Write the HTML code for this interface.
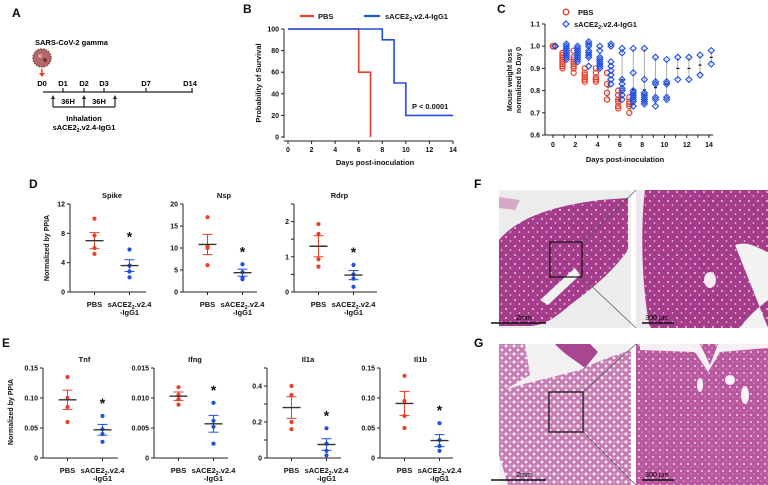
<!DOCTYPE html>
<html><head><meta charset="utf-8">
<style>
html,body{margin:0;padding:0;background:#fff;}
svg{display:block;font-family:"Liberation Sans",Arial,sans-serif;font-weight:bold;}
</style></head>
<body>
<svg id="fig" width="768" height="485" viewBox="0 0 768 485" xmlns="http://www.w3.org/2000/svg">
<defs>
  <pattern id="holesDense" width="9" height="9" patternUnits="userSpaceOnUse">
    <rect width="9" height="9" fill="#a53d8c"/>
    <circle cx="2" cy="3" r="1" fill="#e9c4dd"/>
    <circle cx="6.5" cy="7" r="0.8" fill="#f4dced"/>
    <circle cx="7" cy="1.5" r="0.6" fill="#7c2a6a"/>
  </pattern>
  <pattern id="holesLight" width="8" height="8" patternUnits="userSpaceOnUse">
    <rect width="8" height="8" fill="#c67ab2"/>
    <circle cx="2" cy="2" r="1.6" fill="#f6e8f2"/>
    <circle cx="6" cy="6" r="1.4" fill="#fbf0f7"/>
    <circle cx="6" cy="2" r="0.7" fill="#f0d4e8"/>
  </pattern>
  <pattern id="holesMid" width="7" height="7" patternUnits="userSpaceOnUse">
    <rect width="7" height="7" fill="#b9579f"/>
    <circle cx="2" cy="2" r="1.1" fill="#e8bcd9"/>
    <circle cx="5" cy="5" r="0.8" fill="#d79ac4"/>
  </pattern>
</defs>

<!-- Panel A -->
<g>
  <text x="12" y="17" font-size="12">A</text>
  <text x="35" y="45" font-size="7.5">SARS-CoV-2 gamma</text>
  <g>
    <circle cx="42" cy="58" r="9" fill="#b06a6a" stroke="#8a3d3d" stroke-width="1.5" stroke-dasharray="1.5 1.2"/>
    <circle cx="40" cy="56" r="2" fill="#d9a0a0"/><circle cx="45" cy="60" r="2" fill="#7a3030"/>
  </g>
  <path d="M42 69 L42 74" stroke="#e8402a" stroke-width="1.5"/>
  <path d="M39 73 L45 73 L42 77 Z" fill="#e8402a"/>
  <g font-size="7.5" text-anchor="middle">
    <text x="42" y="86">D0</text><text x="63" y="86">D1</text><text x="84" y="86">D2</text>
    <text x="104" y="86">D3</text><text x="146" y="86">D7</text><text x="190" y="86">D14</text>
  </g>
  <path d="M43 92 L193 92 M63 92 L63 88 M84 92 L84 88 M104 92 L104 88 M146 92 L146 88 M192 92 L192 88" stroke="#222" stroke-width="1.2" fill="none"/>
  <path d="M53 107 L115 107 M53 107 L53 98 M84 107 L84 98 M115 107 L115 98" stroke="#222" stroke-width="1.2" fill="none"/>
  <path d="M51 99 L53 95 L55 99 Z M82 99 L84 95 L86 99 Z M113 99 L115 95 L117 99 Z" fill="#222"/>
  <text x="68" y="104" font-size="7.5" text-anchor="middle">36H</text>
  <text x="99" y="104" font-size="7.5" text-anchor="middle">36H</text>
  <text x="84" y="121" font-size="7.5" text-anchor="middle">Inhalation</text>
  <text x="84" y="130" font-size="7.5" text-anchor="middle">sACE2<tspan font-size="5" dy="2">2</tspan><tspan dy="-2">.v2.4-IgG1</tspan></text>
</g>

<g id="gB"></g>
<g id="gC"></g>
<g id="gD"></g>
<g id="gE"></g>

<!-- Panel F histology -->
<g>
  <text x="474" y="188" font-size="12">F</text>
  <rect x="499" y="190" width="132" height="138" fill="#ececec"/>
  <path d="M499 240 C520 215 560 205 600 200 L628 198 L628 250 C610 275 590 290 570 305 C555 318 545 325 530 326 L499 326 Z" fill="url(#holesDense)"/>
  <path d="M499 197 L520 200 L515 210 L499 208 Z" fill="#d8a8c8"/>
  <path d="M540 300 L575 268 L580 275 L548 305 Z" fill="#f2f2f2"/>
  <rect x="550" y="242" width="32" height="35" fill="none" stroke="#111" stroke-width="1.2"/>
  <path d="M582 242 L636 190 M582 277 L636 328" stroke="#555" stroke-width="0.7"/>
  <rect x="636" y="190" width="132" height="138" fill="url(#holesDense)"/>
  <path d="M636 190 L645 190 C640 230 642 290 650 328 L636 328 Z" fill="#f0e8ee"/>
  <path d="M735 245 C750 240 760 250 768 252 L768 300 C755 310 745 320 740 328 L768 328 Z" fill="#f2f2f2"/>
  <ellipse cx="710" cy="280" rx="6" ry="8" fill="#f6eaf2"/>
  <line x1="491" y1="323" x2="546" y2="323" stroke="#111" stroke-width="1.5"/>
  <text x="524" y="320" font-size="7" text-anchor="middle" font-weight="normal">2mm</text>
  <line x1="642" y1="323" x2="674" y2="323" stroke="#111" stroke-width="1.5"/>
  <text x="657" y="320" font-size="7" text-anchor="middle" font-weight="normal">300 μm</text>
</g>

<!-- Panel G histology -->
<g>
  <text x="474" y="347" font-size="12">G</text>
  <rect x="499" y="344" width="132" height="141" fill="url(#holesLight)"/>
  <path d="M525 344 L631 344 L631 350 C600 360 590 365 580 370 L520 385 L505 390 L530 375 Z" fill="#f3f0f2"/>
  <path d="M555 344 C565 355 575 360 585 368 L598 352 L590 344 Z" fill="#a8468f"/>
  <path d="M499 455 L508 485 L499 485 Z" fill="#f2f2f2"/>
  <rect x="549" y="392" width="34" height="40" fill="none" stroke="#111" stroke-width="1.2"/>
  <path d="M583 392 L636 344 M583 432 L636 485" stroke="#555" stroke-width="0.7"/>
  <rect x="636" y="344" width="132" height="141" fill="url(#holesMid)"/>
  <path d="M640 344 L700 344 L710 365 L718 344 L768 344 L768 348 L720 352 L708 372 L695 352 L640 350 Z" fill="#f6f0f4"/>
  <ellipse cx="700" cy="385" rx="3" ry="7" fill="#fbf3f8"/><ellipse cx="745" cy="395" rx="4" ry="9" fill="#fbf3f8"/><ellipse cx="730" cy="380" rx="5" ry="5" fill="#fbf3f8"/>
  <line x1="491" y1="480" x2="546" y2="480" stroke="#111" stroke-width="1.5"/>
  <text x="524" y="477" font-size="7" text-anchor="middle" font-weight="normal">2mm</text>
  <line x1="642" y1="480" x2="674" y2="480" stroke="#111" stroke-width="1.5"/>
  <text x="657" y="477" font-size="7" text-anchor="middle" font-weight="normal">300 μm</text>
</g>
</svg>

<script>
// ---------- Panel B data ----------
const survDays = [0, 2, 4, 6, 8, 10, 12, 14];
const survTicksY = [0, 20, 40, 60, 80, 100];
const survPBSx = [0, 6, 6, 7, 7];
const survPBSy = [100, 100, 60, 60, 0];
const survTrtX = [0, 8, 8, 9, 9, 10, 10, 14];
const survTrtY = [100, 100, 90, 90, 50, 50, 20, 20];

// ---------- Panel C data ----------
const wtTicksX = [0, 2, 4, 6, 8, 10, 12, 14];
const wtTicksY = [0.6, 0.7, 0.8, 0.9, 1.0, 1.1];
const wtPBSdays = [0, 1, 2, 3, 4, 5, 6, 7];
const wtPBSvals = [
  [1, 1, 1, 1, 1, 1, 1, 1],
  [0.97, 0.96, 0.95, 0.94, 0.93, 0.92, 0.91, 0.90],
  [0.98, 0.95, 0.94, 0.93, 0.92, 0.91, 0.90, 0.88],
  [0.90, 0.88, 0.87, 0.86, 0.85, 0.85, 0.84],
  [0.90, 0.88, 0.86, 0.85, 0.85, 0.84],
  [0.88, 0.88, 0.83, 0.79, 0.76, 0.76],
  [0.80, 0.78, 0.76, 0.75, 0.73, 0.72],
  [0.77, 0.75, 0.74, 0.73, 0.70]
];
const wtTrtDays = [0, 1, 2, 3, 4, 5, 6, 7, 8, 9, 10, 11, 12, 13, 14];
const wtTrtVals = [
  [1, 1, 1, 1],
  [1.01, 1.0, 0.99, 0.98, 0.97, 0.96, 0.95, 0.94],
  [1.0, 0.99, 0.98, 0.97, 0.96, 0.95, 0.94, 0.93],
  [1.02, 1.01, 1.0, 0.98, 0.97, 0.96, 0.95, 0.91],
  [1.0, 0.98, 0.95, 0.94, 0.93, 0.92, 0.91, 0.90],
  [1.01, 1.0, 0.93, 0.91, 0.89, 0.87, 0.85, 0.83],
  [0.99, 0.97, 0.85, 0.83, 0.81, 0.80, 0.78, 0.76],
  [0.99, 0.88, 0.80, 0.79, 0.78, 0.77, 0.76, 0.75, 0.73],
  [0.99, 0.85, 0.79, 0.78, 0.77, 0.76, 0.75, 0.74],
  [0.95, 0.84, 0.83, 0.77, 0.76, 0.73],
  [0.94, 0.84, 0.83, 0.77, 0.76],
  [0.95, 0.85],
  [0.95, 0.85],
  [0.96, 0.87],
  [0.98, 0.92]
];

// ---------- Panels D / E data ----------
const groupLabels = ["PBS", "sACE2"];
const spikePBS = [10, 7.7, 6.0, 5.2];
const spikeTrt = [5.8, 3.6, 2.8, 2.0];
const spikeMean = [7.0, 3.6];
const spikeSem = [1.1, 0.8];
const spikeTicks = [0, 4, 8, 12];
const nspPBS = [17, 10.5, 10, 6.1];
const nspTrt = [6.3, 4.5, 3.2, 2.9];
const nspMean = [10.8, 4.4];
const nspSem = [2.3, 0.8];
const nspTicks = [0, 5, 10, 15, 20];
const rdrpPBS = [1.93, 1.65, 0.93, 0.72];
const rdrpTrt = [0.77, 0.5, 0.38, 0.15];
const rdrpMean = [1.3, 0.48];
const rdrpSem = [0.3, 0.13];
const rdrpTicks = [0, 0.5, 1, 1.5, 2, 2.5];
const rdrpTickLabels = ["0", "", "1", "", "2", ""];
const tnfPBS = [0.135, 0.10, 0.085, 0.06];
const tnfTrt = [0.07, 0.048, 0.04, 0.027];
const tnfMean = [0.097, 0.047];
const tnfSem = [0.016, 0.009];
const tnfTicks = [0, 0.05, 0.10, 0.15];
const tnfTickLabels = ["0", "0.05", "0.10", "0.15"];
const ifngPBS = [0.0118, 0.0105, 0.0098, 0.0089];
const ifngTrt = [0.0092, 0.0062, 0.0052, 0.0024];
const ifngMean = [0.0103, 0.0057];
const ifngSem = [0.0007, 0.0014];
const ifngTicks = [0, 0.005, 0.010, 0.015];
const ifngTickLabels = ["0", "0.005", "0.010", "0.015"];
const il1aPBS = [0.40, 0.35, 0.20, 0.16];
const il1aTrt = [0.165, 0.08, 0.04, 0.015];
const il1aMean = [0.28, 0.075];
const il1aSem = [0.06, 0.032];
const il1aTicks = [0, 0.1, 0.2, 0.3, 0.4, 0.5];
const il1aTickLabels = ["0", "", "0.2", "", "0.4", ""];
const il1bPBS = [0.137, 0.095, 0.07, 0.05];
const il1bTrt = [0.058, 0.03, 0.02, 0.012];
const il1bMean = [0.091, 0.029];
const il1bSem = [0.02, 0.01];
const il1bTicks = [0, 0.05, 0.10, 0.15];
const il1bTickLabels = ["0", "0.05", "0.10", "0.15"];

const RED = "#e8402a", BLUE = "#1f4fe0", INK = "#222";
const NS = "http://www.w3.org/2000/svg";
function mk(parent, tag, attrs, txt) {
  const e = document.createElementNS(NS, tag);
  for (const k in attrs) e.setAttribute(k, attrs[k]);
  if (txt !== undefined) e.textContent = txt;
  parent.appendChild(e);
  return e;
}
function label(parent, x, y, s, size, anchor, name) {
  const t = mk(parent, "text", {x: x, y: y, "font-size": size, "text-anchor": anchor || "start", fill: "#111"}, s);
  
  
  return t;
}
function line(parent, x1, y1, x2, y2, stroke, w, name) {
  const l = mk(parent, "line", {x1: x1, y1: y1, x2: x2, y2: y2, stroke: stroke, "stroke-width": w});
  
  
  return l;
}
function sacText(parent, x, y, size, anchor, name) {
  const t = mk(parent, "text", {x: x, y: y, "font-size": size, "text-anchor": anchor, fill: "#111"});
  
  
  t.appendChild(document.createTextNode("sACE2"));
  mk(t, "tspan", {"font-size": size * 0.7, dy: 2}, "2");
  mk(t, "tspan", {dy: -2}, ".v2.4");
  return t;
}

// ---------- Panel B ----------
(function () {
  const g = document.getElementById("gB");
  const X0 = 288, X1 = 453, Y0 = 137, Y1 = 29;
  const sx = d => X0 + (d / 14) * (X1 - X0);
  const sy = v => Y0 - (v / 100) * (Y0 - Y1);
  label(g, 243, 13, "B", 12, "start", "panel-label-b");
  line(g, 300, 16, 314, 16, RED, 2.2, "legend-pbs-line");
  label(g, 318, 19, "PBS", 7.5, "start", "legend-pbs-text");
  line(g, 364, 16, 380, 16, BLUE, 2.2, "legend-treatment-line");
  const lt = sacText(g, 385, 19, 7.5, "start", "legend-treatment-text");
  mk(lt, "tspan", {}, "-IgG1");
  line(g, X0 - 4, Y0 + 1, X0 - 4, Y1, INK, 1, "y-axis");
  line(g, X0 - 4, Y0 + 4, X1, Y0 + 4, INK, 1, "x-axis");
  survTicksY.forEach(v => {
    line(g, X0 - 7, sy(v), X0 - 4, sy(v), INK, 1, "y-tick");
    label(g, X0 - 9, sy(v) + 2.5, String(v), 7, "end", "y-tick-label");
  });
  survDays.forEach(d => {
    line(g, sx(d), Y0 + 4, sx(d), Y0 + 7, INK, 1, "x-tick");
    label(g, sx(d), Y0 + 15, String(d), 7, "middle", "x-tick-label");
  });
  label(g, 375, 165, "Days post-inoculation", 7.5, "middle", "x-axis-title");
  const yt = label(g, 0, 0, "Probability of Survival", 7.5, "middle", "y-axis-title");
  yt.setAttribute("transform", "translate(261,83) rotate(-90)");
  let dp = "M" + survPBSx.map((d, i) => sx(d) + " " + sy(survPBSy[i])).join(" L");
  const p1 = mk(g, "path", {d: dp, fill: "none", stroke: RED, "stroke-width": 1.6});
  
  
  let dt = "M" + survTrtX.map((d, i) => sx(d) + " " + sy(survTrtY[i])).join(" L");
  const p2 = mk(g, "path", {d: dt, fill: "none", stroke: BLUE, "stroke-width": 1.6});
  
  
  label(g, 412, 109, "P < 0.0001", 7.5, "start", "p-value-label");
})();

// ---------- Panel C ----------
(function () {
  const g = document.getElementById("gC");
  const X0 = 553, X1 = 709, Y0 = 135, Y1 = 24;
  const sx = d => X0 + (d / 14) * (X1 - X0);
  const sy = v => Y0 - ((v - 0.6) / 0.5) * (Y0 - Y1);
  label(g, 497, 13, "C", 12, "start", "panel-label-c");
  const lc = mk(g, "circle", {cx: 566, cy: 12, r: 2.8, fill: "none", stroke: RED, "stroke-width": 1.3});
  
  
  label(g, 578, 15, "PBS", 7.5, "start", "legend-pbs-text");
  const ld = mk(g, "path", {d: "M566 21 L569 24 L566 27 L563 24 Z", fill: "none", stroke: BLUE, "stroke-width": 1.2});
  
  
  const lt = sacText(g, 574, 27, 7.5, "start", "legend-treatment-text");
  mk(lt, "tspan", {}, "-IgG1");
  line(g, 545, Y1, 545, Y0, INK, 1, "y-axis");
  line(g, 545, Y0, 713, Y0, INK, 1, "x-axis");
  wtTicksY.forEach(v => {
    line(g, 542, sy(v), 545, sy(v), INK, 1, "y-tick");
    label(g, 540, sy(v) + 2.5, v.toFixed(1), 7, "end", "y-tick-label");
  });
  for (let d = 0; d <= 14; d++) line(g, sx(d), Y0, sx(d), Y0 + 3, INK, 1, "x-tick");
  wtTicksX.forEach(d => label(g, sx(d), Y0 + 12, String(d), 7, "middle", "x-tick-label"));
  label(g, 625, 162, "Days post-inoculation", 7.5, "middle", "x-axis-title");
  const y1 = label(g, 0, 0, "Mouse weight loss", 7, "middle", "y-axis-title-line1");
  y1.setAttribute("transform", "translate(512,80) rotate(-90)");
  const y2 = label(g, 0, 0, "normalized to Day 0", 7, "middle", "y-axis-title-line2");
  y2.setAttribute("transform", "translate(521,80) rotate(-90)");
  function errbar(x, vals) {
    const n = vals.length, m = vals.reduce((a, b) => a + b, 0) / n;
    const lo = Math.min(...vals), hi = Math.max(...vals);
    line(g, x, sy(hi), x, sy(lo), "#999", 0.8, "weight-range-bar");
    line(g, x - 1.5, sy(m), x + 1.5, sy(m), "#111", 1.2, "weight-mean-mark");
  }
  wtPBSdays.forEach((d, i) => {
    const x = sx(d === 0 ? 0 : d - 0.15);
    if (d >= 5) errbar(x + 1, wtPBSvals[i]);
    wtPBSvals[i].forEach(v => {
      const c = mk(g, "circle", {cx: x, cy: sy(v), r: 2.6, fill: "none", stroke: RED, "stroke-width": 1.2});
      
      
    });
  });
  wtTrtDays.forEach((d, i) => {
    const x = sx(d + 0.2);
    if (d >= 6) errbar(x, wtTrtVals[i]);
    wtTrtVals[i].forEach(v => {
      const y = sy(v);
      const p = mk(g, "path", {d: `M${x} ${y - 3} L${x + 3} ${y} L${x} ${y + 3} L${x - 3} ${y} Z`, fill: "none", stroke: BLUE, "stroke-width": 1.1});
      
      
    });
  });
})();

// ---------- Scatter panels D / E ----------
function scatterPanel(g, name, ax, xEnd, yTop, yBot, ticks, tickLabels, pbs, trt, mean, sem, showYTitle) {
  const maxV = ticks[ticks.length - 1];
  const sy = v => yBot - (v / maxV) * (yBot - yTop);
  const xP = ax + 24.5, xT = ax + 59.5;
  label(g, (ax + xEnd) / 2 + 4, yTop - 6, name, 7.5, "middle", "panel-title-" + name.toLowerCase());
  line(g, ax, yTop, ax, yBot, INK, 1, "y-axis");
  line(g, ax, yBot, xEnd, yBot, INK, 1, "x-axis");
  ticks.forEach((v, i) => {
    line(g, ax - 3, sy(v), ax, sy(v), INK, 1, "y-tick");
    if (tickLabels[i]) label(g, ax - 5, sy(v) + 2.5, tickLabels[i], 7, "end", "y-tick-label");
  });
  line(g, xP, yBot, xP, yBot + 3, INK, 1, "x-tick");
  line(g, xT, yBot, xT, yBot + 3, INK, 1, "x-tick");
  label(g, xP, yBot + 15, groupLabels[0], 7.5, "middle", "x-label-pbs");
  const st = sacText(g, xT, yBot + 15, 7.5, "middle", "x-label-treatment");
  label(g, xT, yBot + 23, "-IgG1", 7.5, "middle", "x-label-treatment-line2");
  [[xP, pbs, RED, 0], [xT, trt, BLUE, 1]].forEach(([x, vals, col, gi]) => {
    vals.forEach(v => {
      const c = mk(g, "circle", {cx: x, cy: sy(v), r: 2.1, fill: col});
      
      
    });
    const m = mean[gi], s = sem[gi];
    line(g, x, sy(m + s), x, sy(m - s), col, 1, "sem-bar");
    line(g, x - 5, sy(m + s), x + 5, sy(m + s), col, 1, "sem-cap-top");
    line(g, x - 5, sy(m - s), x + 5, sy(m - s), col, 1, "sem-cap-bottom");
    line(g, x - 9, sy(m), x + 9, sy(m), "#333", 1.4, "mean-line");
  });
  const topT = Math.max(...trt, mean[1] + sem[1]);
  label(g, xT, sy(topT) - 8, "*", 14, "middle", "significance-star");
}

(function () {
  const g = document.getElementById("gD");
  label(g, 29, 188, "D", 12, "start", "panel-label-d");
  const yt = label(g, 0, 0, "Normalized by PPIA", 7, "middle", "y-axis-title");
  yt.setAttribute("transform", "translate(49,248) rotate(-90)");
  scatterPanel(g, "Spike", 70, 146, 204, 292, spikeTicks, spikeTicks.map(String), spikePBS, spikeTrt, spikeMean, spikeSem);
  scatterPanel(g, "Nsp", 183, 257, 204, 292, nspTicks, nspTicks.map(String), nspPBS, nspTrt, nspMean, nspSem);
  scatterPanel(g, "Rdrp", 294, 377, 204, 292, rdrpTicks, rdrpTickLabels, rdrpPBS, rdrpTrt, rdrpMean, rdrpSem);
})();

(function () {
  const g = document.getElementById("gE");
  label(g, 2, 347, "E", 12, "start", "panel-label-e");
  const yt = label(g, 0, 0, "Normalized by PPIA", 7, "middle", "y-axis-title");
  yt.setAttribute("transform", "translate(13,412) rotate(-90)");
  scatterPanel(g, "Tnf", 43, 118, 368, 458, tnfTicks, tnfTickLabels, tnfPBS, tnfTrt, tnfMean, tnfSem);
  scatterPanel(g, "Ifng", 154, 228, 368, 458, ifngTicks, ifngTickLabels, ifngPBS, ifngTrt, ifngMean, ifngSem);
  scatterPanel(g, "Il1a", 267, 341, 368, 458, il1aTicks, il1aTickLabels, il1aPBS, il1aTrt, il1aMean, il1aSem);
  scatterPanel(g, "Il1b", 380, 453, 368, 458, il1bTicks, il1bTickLabels, il1bPBS, il1bTrt, il1bMean, il1bSem);
})();
</script>
</body></html>
